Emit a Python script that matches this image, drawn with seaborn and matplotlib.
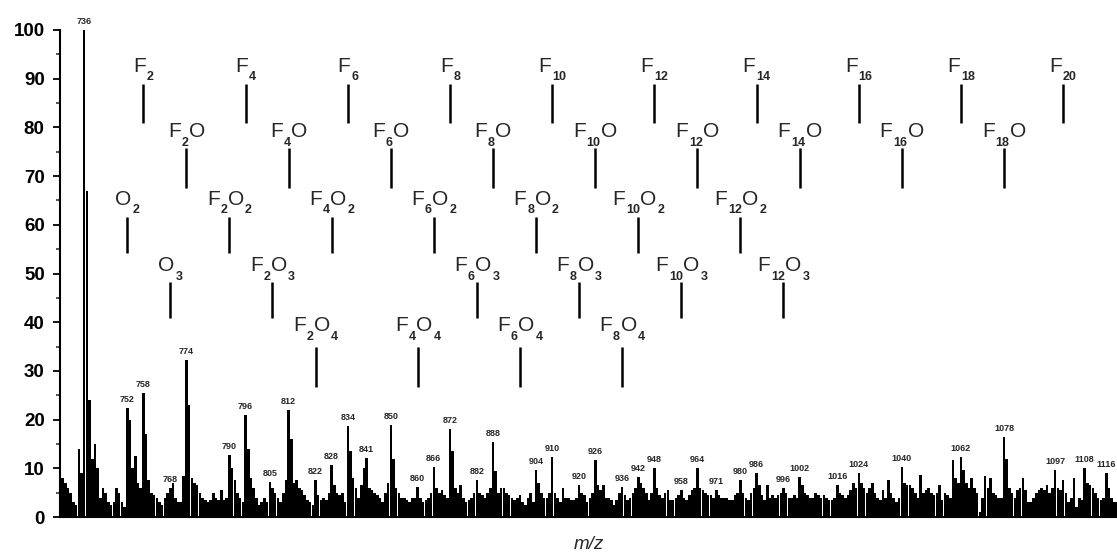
import numpy as np
import pandas as pd
import matplotlib
matplotlib.use("Agg")
import matplotlib.pyplot as plt
from matplotlib.ticker import MultipleLocator
import seaborn as sns

# ---------------- data ----------------
mz_start = 727
intensity = [
    9.5, 8, 7, 6, 5, 3, 2.5, 14, 9, 100,          # 727-736
    67, 24, 12, 15, 10, 4, 6, 5, 3, 2.5,          # 737-746
    3, 6, 5, 3, 2, 22.4, 20, 10, 12.5, 7,         # 747-756
    6, 25.5, 17, 7.5, 5, 4.5, 4, 3, 2.5, 4,       # 757-766
    5, 6, 7, 4, 3, 3, 8.5, 32.2, 23, 8,           # 767-776
    7, 6.5, 5, 4, 3.5, 3, 3.5, 5, 4, 3.5,         # 777-786
    5.5, 3.5, 4, 12.7, 10, 7.5, 5, 4, 3, 21,      # 787-796
    14, 8, 6, 4, 2.5, 3, 4, 3, 7.2, 6,            # 797-806
    5, 4, 3, 5, 7.5, 22, 16, 7, 7.5, 6,           # 807-816
    5.5, 4.5, 3.5, 3, 2.5, 7.6, 4.5, 3.5, 4, 3.5, # 817-826
    5, 10.7, 6.5, 5, 4.5, 5, 3, 18.7, 13.5, 8,    # 827-836
    6, 4, 6.5, 10, 12.1, 6, 5.5, 5, 4.5, 4,       # 837-846
    3, 5, 7, 18.9, 12, 6, 5, 4, 4, 3.5,           # 847-856
    3, 4, 4, 6.2, 4, 3, 3.5, 4, 5, 10.3,          # 857-866
    6, 5, 5.5, 4.5, 4, 18, 13.5, 6, 5, 6.5,       # 867-876
    4, 3, 3.5, 4, 5, 7.6, 5, 4.5, 4, 5,           # 877-886
    6, 15.4, 9.5, 5, 6, 6, 5, 4.5, 4, 3.5,        # 887-896
    4, 4.5, 3, 2.5, 4, 5, 3, 9.7, 7, 5,           # 897-906
    4, 4, 5, 12.3, 5, 4, 3, 6, 4, 4,              # 907-916
    3.5, 3.5, 4, 6.6, 5, 4.5, 3, 4, 5, 11.7,      # 917-926
    6.5, 5.5, 6.5, 4, 4, 3.5, 2.5, 3.5, 5, 6.2,   # 927-936
    4.5, 3.5, 4, 5, 6, 8.2, 7, 6, 5, 3.5,         # 937-946
    5, 10, 6, 4.5, 4, 5, 5.5, 3.5, 3.5, 4,        # 947-956
    4.5, 5.5, 4, 3.5, 4.5, 5.5, 6, 10, 6, 5.5,    # 957-966
    5, 4.5, 4.5, 4, 5.5, 4.5, 4, 4, 4, 3.5,       # 967-976
    3.5, 4.5, 5, 7.6, 5, 4, 3.5, 5, 6, 9,         # 977-986
    6.5, 4.5, 3.5, 6.5, 4, 4.5, 4, 4.5, 5, 6,     # 987-996
    5, 4, 4, 4.5, 4, 8.2, 6.5, 5, 4.5, 4,         # 997-1006
    4, 5, 4.5, 4, 4.5, 4, 3.5, 3.5, 4, 6.6,       # 1007-1016
    5, 4.5, 4, 4.5, 5.5, 7, 6, 9, 7, 6,           # 1017-1026
    5, 6, 7, 5, 4, 3.5, 5.5, 4, 7.5, 5,           # 1027-1036
    4, 3, 4, 10.3, 7, 6.5, 6.5, 6, 5, 4,          # 1037-1046
    8.6, 5, 5.5, 6, 5, 4.5, 5, 6.5, 3.5, 5,       # 1047-1056
    4.5, 4, 11.7, 8, 7, 12.3, 9.7, 7, 6, 8,       # 1057-1066
    6, 5, 1, 4, 8.5, 6, 8, 5, 4.5, 4,             # 1067-1076
    4, 16.4, 12, 6, 5, 4, 5.5, 6, 8, 5.5,         # 1077-1086
    3, 3, 4, 5, 5.5, 6, 5.5, 6.5, 5, 6,           # 1087-1096
    9.7, 6, 5.5, 7.5, 5, 3, 4, 8, 2, 4,           # 1097-1106
    3.5, 10, 7, 6.5, 6, 5, 4, 3.5, 4, 9,          # 1107-1116
    6, 4, 3, 3,                                   # 1117-1120
]
mz = list(range(mz_start, mz_start + len(intensity)))

# labelled peaks (m/z shown above the peak)
peak_labels = [736, 752, 758, 768, 774, 790, 796, 805, 812, 822, 828, 834,
               841, 850, 860, 866, 872, 882, 888, 904, 910, 920, 926, 936,
               942, 948, 958, 964, 971, 980, 986, 996, 1002, 1016, 1024,
               1040, 1062, 1078, 1097, 1108, 1116]

# assignment markers: formula given as (F count, O count) and marker m/z
row_F = [((2, 0), 758), ((4, 0), 796), ((6, 0), 834), ((8, 0), 872),
         ((10, 0), 910), ((12, 0), 948), ((14, 0), 986), ((16, 0), 1024),
         ((18, 0), 1062), ((20, 0), 1100)]
row_FO = [((2, 1), 774), ((4, 1), 812), ((6, 1), 850), ((8, 1), 888),
          ((10, 1), 926), ((12, 1), 964), ((14, 1), 1002), ((16, 1), 1040),
          ((18, 1), 1078)]
row_FO2 = [((0, 2), 752), ((2, 2), 790), ((4, 2), 828), ((6, 2), 866),
           ((8, 2), 904), ((10, 2), 942), ((12, 2), 980)]
row_FO3 = [((0, 3), 768), ((2, 3), 806), ((6, 3), 882), ((8, 3), 920),
           ((10, 3), 958), ((12, 3), 996)]
row_FO4 = [((2, 4), 822), ((4, 4), 860), ((6, 4), 898), ((8, 4), 936)]

# ---------------- style ----------------
sns.set_theme(style="ticks")
plt.rcParams["font.family"] = ["Liberation Sans", "DejaVu Sans"]

fig = plt.figure(figsize=(11.17, 5.53), dpi=100)
ax = fig.add_axes([60 / 1117, 36 / 553, 1 - 60 / 1117, (517 - 30) / 553])

df = pd.DataFrame({"mz": mz, "intensity": intensity})
sns.histplot(data=df, x="mz", weights="intensity", discrete=True, shrink=0.95,
             color="black", edgecolor="none", linewidth=0, alpha=1, ax=ax)

ax.set_xlim(727, 1120)
ax.set_ylim(0, 100)
ax.set_xticks([])
ax.yaxis.set_major_locator(MultipleLocator(10))
ax.yaxis.set_minor_locator(MultipleLocator(5))
ax.tick_params(axis="y", which="major", direction="out", length=5, width=1.3,
               labelsize=13.5, pad=6, colors="black")
ax.tick_params(axis="y", which="minor", direction="out", length=3, width=1.1)
for lab in ax.get_yticklabels():
    lab.set_fontweight("bold")
ax.set_ylabel("")
ax.set_xlabel("m/z", fontsize=13.5, style="italic", labelpad=14)
sns.despine(ax=ax, top=True, right=True)
for side in ("left", "bottom"):
    ax.spines[side].set_linewidth(1.5)
    ax.spines[side].set_color("black")

# peak labels
inten_map = dict(zip(mz, intensity))
for p in peak_labels:
    ax.text(p, inten_map[p] + 0.8, str(p), ha="center", va="bottom",
            fontsize=6.5, fontweight="bold", clip_on=False)

# assignment rows: (label baseline, line top, line bottom)
rows = [(row_F, 91.4, 89.0, 81.0),
        (row_FO, 78.0, 75.8, 67.6),
        (row_FO2, 64.1, 61.6, 54.2),
        (row_FO3, 50.5, 48.3, 40.9),
        (row_FO4, 38.1, 34.9, 26.7)]

MAIN_FS = 15
SUB_FS = 9


def formula_pieces(nf, no):
    pieces = []
    if nf:
        pieces.append(("F", False))
        pieces.append((str(nf), True))
    if no:
        pieces.append(("O", False))
        if no > 1:
            pieces.append((str(no), True))
    return pieces


groups = []
for items, ty, l_top, l_bot in rows:
    for (nf, no), m in items:
        ax.plot([m, m], [l_bot, l_top], color="black", lw=1.8,
                solid_capstyle="butt")
        pieces = formula_pieces(nf, no)
        arts = []
        first = ax.text(m, ty, pieces[0][0], ha="left", va="baseline",
                        fontsize=MAIN_FS)
        arts.append(first)
        prev = first
        for txt, is_sub in pieces[1:]:
            if is_sub:
                a = ax.annotate(txt, xy=(1, 0), xycoords=prev,
                                xytext=(0.6, 3.2), textcoords="offset points",
                                ha="left", va="top", fontsize=SUB_FS,
                                fontweight="bold")
            else:
                a = ax.annotate(txt, xy=(1, 0), xycoords=(prev, first),
                                xytext=(0.4, 0), textcoords="offset points",
                                ha="left", va="bottom", fontsize=MAIN_FS)
            arts.append(a)
            prev = a
        groups.append((m, first, arts))

# centre each composed label over its marker
fig.canvas.draw()
renderer = fig.canvas.get_renderer()
for m, first, arts in groups:
    x0 = min(a.get_window_extent(renderer).x0 for a in arts)
    x1 = max(a.get_window_extent(renderer).x1 for a in arts)
    centre_px = 0.5 * (x0 + x1)
    target_px = ax.transData.transform((m, 0))[0]
    shift_px = target_px - centre_px
    inv = ax.transData.inverted()
    d0 = inv.transform((0, 0))[0]
    d1 = inv.transform((shift_px, 0))[0]
    x, y = first.get_position()
    first.set_position((x + (d1 - d0), y))

fig.savefig("out.png", dpi=100)
